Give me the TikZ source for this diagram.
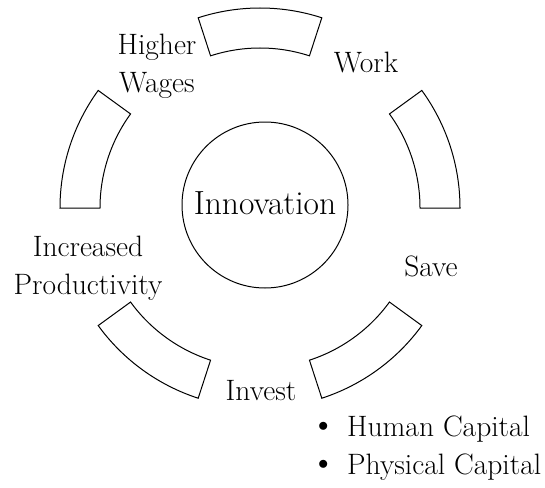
\documentclass[tikz,border=0pt]{standalone}
\usepackage{fontspec}
\usetikzlibrary{calc}
\newcommand{\smallbullet}{\makebox[14pt][c]{\raisebox{5pt}{\fontsize{20}{20}\selectfont$\bullet$}}\hspace{17pt}}
\begin{document}
\begin{tikzpicture}[x=1pt,y=1pt,
  segment/.style={draw=black,line width=1pt,fill=white},
  hub/.style={draw=black,line width=1pt,circle,minimum size=166pt,inner sep=0pt},
  label/.style={font=\fontsize{29.5}{38}\selectfont,align=center,inner sep=0pt},
  hubtext/.style={font=\fontsize{33.5}{40}\selectfont,inner sep=0pt}]
\useasboundingbox (0,0) rectangle (545,-487);
% ring centre
\coordinate (ring) at (260,-208);
% five ring segments, 36 degrees each with 36 degree gaps
\foreach \a in {0,72,144,216,288}{
  \draw[segment] ($(ring)+(\a:200pt)$) arc[start angle=\a,end angle=\a+36,radius=200pt]
    -- ($(ring)+(\a+36:160pt)$) arc[start angle=\a+36,end angle=\a,radius=160pt] -- cycle;
}
% central hub
\node[hub] (hub) at (265,-205) {};
\node[hubtext,anchor=base] (innov) at (265,-214) {Innovation};
% stage labels (base anchor sits on the last line)
\node[label,anchor=base] (wages) at (157,-92) {Higher\\Wages};
\node[label,anchor=base] (work) at (366,-72) {Work};
\node[label,anchor=base] (save) at (431,-276) {Save};
\node[label,anchor=base] (invest) at (261,-400) {Invest};
\node[label,anchor=base] (prod) at (88,-294) {Increased\\Productivity};
\node[label,align=left,anchor=base west] (capital) at (316,-474)
  {\smallbullet Human Capital\\\smallbullet Physical Capital};
\end{tikzpicture}
\end{document}
